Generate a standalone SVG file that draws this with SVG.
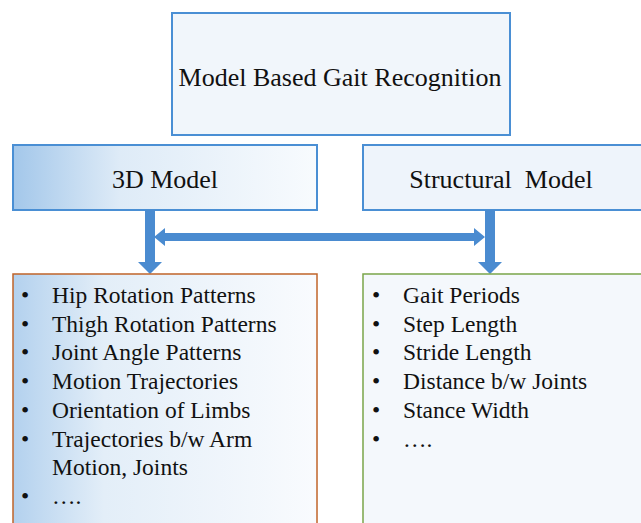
<svg xmlns="http://www.w3.org/2000/svg" width="641" height="523" viewBox="0 0 641 523">
  <defs>
    <linearGradient id="gradBlue" x1="0" y1="0" x2="1" y2="0">
      <stop offset="0" stop-color="#a3c7ea"/>
      <stop offset="0.35" stop-color="#deebf7"/>
      <stop offset="1" stop-color="#f8fbfe"/>
    </linearGradient>
    <linearGradient id="gradList" x1="0" y1="0" x2="1" y2="0">
      <stop offset="0" stop-color="#b3d1ee"/>
      <stop offset="0.3" stop-color="#e3eef8"/>
      <stop offset="1" stop-color="#f9fbfe"/>
    </linearGradient>
    <style>
      .box { stroke: #4a8fd4; stroke-width: 2; }
      .title { font-family: "Liberation Serif", "Times New Roman", serif; font-size: 26px; fill: #111; }
      .item { font-family: "Liberation Serif", "Times New Roman", serif; font-size: 23.5px; fill: #111; }
      .arrow { fill: #4a8bd0; }
    </style>
  </defs>

  <rect width="641" height="523" fill="#ffffff"/>

  <g id="root">
    <rect class="box" x="172" y="13" width="338" height="122" fill="#f1f6fb"/>
    <text class="title" x="340" y="86" text-anchor="middle">Model Based Gait Recognition</text>
  </g>

  <g id="model3d">
    <rect class="box" x="13" y="145" width="304" height="65" fill="url(#gradBlue)"/>
    <text class="title" x="165" y="188" text-anchor="middle">3D Model</text>
  </g>

  <g id="structural">
    <rect class="box" x="363" y="145" width="280" height="65" fill="#eef4fb"/>
    <text class="title" x="501" y="188" text-anchor="middle" xml:space="preserve">Structural  Model</text>
  </g>

  <g id="connectors">
    <!-- 3D Model down arrow -->
    <polygon class="arrow" points="145,210 155,210 155,262 162,262 150,274 138,262 145,262"/>
    <!-- Structural Model down arrow -->
    <polygon class="arrow" points="485,210 495,210 495,262 502,262 490,274 478,262 485,262"/>
    <!-- double-headed link between the two branches -->
    <polygon class="arrow" points="154,237 165,228 165,233 474,233 474,228 485,237 474,246 474,241 165,241 165,246"/>
  </g>

  <g id="list3d">
    <rect x="13" y="274" width="304" height="260" fill="url(#gradList)" stroke="#c0642a" stroke-width="1.5"/>
    <g class="item">
      <text x="21" y="303">•</text><text x="52" y="303">Hip Rotation Patterns</text>
      <text x="21" y="331.7">•</text><text x="52" y="331.7">Thigh Rotation Patterns</text>
      <text x="21" y="360.4">•</text><text x="52" y="360.4">Joint Angle Patterns</text>
      <text x="21" y="389.1">•</text><text x="52" y="389.1">Motion Trajectories</text>
      <text x="21" y="417.8">•</text><text x="52" y="417.8">Orientation of Limbs</text>
      <text x="21" y="446.5">•</text><text x="52" y="446.5" xml:space="preserve">Trajectories b/w Arm</text>
      <text x="52" y="475.2">Motion, Joints</text>
      <text x="21" y="503.9">•</text><text x="52" y="503.9">….</text>
    </g>
  </g>

  <g id="listStructural">
    <rect x="363" y="274" width="280" height="260" fill="#f4f8fc" stroke="#7aa54a" stroke-width="1.5"/>
    <g class="item">
      <text x="372" y="303">•</text><text x="403" y="303">Gait Periods</text>
      <text x="372" y="331.7">•</text><text x="403" y="331.7">Step Length</text>
      <text x="372" y="360.4">•</text><text x="403" y="360.4">Stride Length</text>
      <text x="372" y="389.1">•</text><text x="403" y="389.1">Distance b/w Joints</text>
      <text x="372" y="417.8">•</text><text x="403" y="417.8">Stance Width</text>
      <text x="372" y="446.5">•</text><text x="403" y="446.5">….</text>
    </g>
  </g>
</svg>
